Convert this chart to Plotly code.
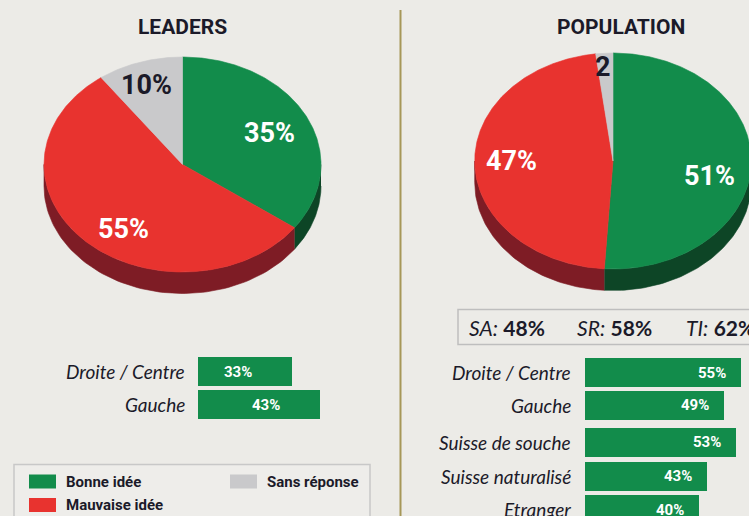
import numpy as np
import plotly.graph_objects as go

W, H = 749, 516
BG = "#ECEBE7"
DARK = "#1B1A29"

# ---------------- data ----------------
answer_labels = ["Bonne idée", "Mauvaise idée", "Sans réponse"]
leaders_share = [35, 55, 10]
leaders_pie_text = ["35%", "55%", "10%"]
population_share = [51, 47, 2]
population_pie_text = ["51%", "47%", "2"]

leaders_groups = ["Droite / Centre", "Gauche"]
leaders_group_values = [33, 43]
population_groups = ["Droite / Centre", "Gauche", "Suisse de souche",
                     "Suisse naturalisé", "Etranger"]
population_group_values = [55, 49, 53, 43, 40]
regions = ["SA", "SR", "TI"]
region_values = [48, 58, 62]

# ---------------- styles ----------------
top_colors = ["#128C4B", "#E8332F", "#C9C9CB"]
side_colors = ["#0D4526", "#7E1C25", "#8E8E90"]
label_colors = ["white", "white", DARK]
NUM_FONT = "Roboto, sans-serif"
LAB_FONT = "Lato, sans-serif"

fig = go.Figure()


def add_pie(values, texts, cx, cy, rx, ry, depth, label_off):
    total = float(sum(values))
    cum = np.concatenate([[0], np.cumsum(values)]) / total * 360.0
    # extruded side (visible lower half only)
    for i in range(len(values)):
        lo, hi = max(cum[i], 90.0), min(cum[i + 1], 270.0)
        if hi > lo:
            t = np.radians(np.linspace(lo, hi, 80))
            xs = cx + rx * np.sin(t)
            ys = cy - ry * np.cos(t)
            fig.add_trace(go.Scatter(
                x=np.concatenate([xs, xs[::-1]]),
                y=np.concatenate([ys, ys[::-1] + depth]),
                fill="toself", fillcolor=side_colors[i], mode="lines",
                line=dict(color=side_colors[i], width=0.6),
                hoverinfo="skip", showlegend=False))
    # top surface
    for i in range(len(values)):
        n = max(int(cum[i + 1] - cum[i]) * 2, 4)
        t = np.radians(np.linspace(cum[i], cum[i + 1], n))
        xs = np.concatenate([[cx], cx + rx * np.sin(t), [cx]])
        ys = np.concatenate([[cy], cy - ry * np.cos(t), [cy]])
        fig.add_trace(go.Scatter(
            x=xs, y=ys, fill="toself", fillcolor=top_colors[i], mode="lines",
            line=dict(color=top_colors[i], width=0.6),
            name=answer_labels[i], hoverinfo="name", showlegend=False))
        fx, fy = label_off[i]
        fig.add_annotation(x=cx + fx * rx, y=cy + fy * ry, text="<b>%s</b>" % texts[i],
                           showarrow=False, xanchor="center", yanchor="middle",
                           font=dict(family=NUM_FONT, size=27, color=label_colors[i]))


# pies
add_pie(leaders_share, leaders_pie_text, 182.5, 164.5, 138.5, 107.5, 21.5,
        [(0.625, -0.29), (-0.426, 0.60), (-0.26, -0.735)])
add_pie(population_share, population_pie_text, 613.0, 161.0, 138.3, 108.0, 21.5,
        [(0.70, 0.14), (-0.737, 0.0), (-0.069, -0.87)])

# titles
for txt, x in [("LEADERS", 182.0), ("POPULATION", 620.5)]:
    fig.add_annotation(x=x, y=27, text="<b>%s</b>" % txt, showarrow=False,
                       xanchor="center", yanchor="middle",
                       font=dict(family="Roboto, sans-serif", size=21, color=DARK))

# bars ------------------------------------------------------
PX_PER_PCT = 2.84
left_start, right_start = 198.0, 585.0
left_rows = [371.5, 404.5]
right_rows = [372.5, 405.3, 442.2, 476.3, 509.5]
BAR_H = 28.8
GREEN = top_colors[0]

fig.add_trace(go.Bar(x=leaders_group_values, y=left_rows, orientation="h",
                     xaxis="x2", yaxis="y", width=BAR_H, marker=dict(color=GREEN, line=dict(width=0)),
                     hoverinfo="x", showlegend=False))
fig.add_trace(go.Bar(x=population_group_values, y=right_rows, orientation="h",
                     xaxis="x3", yaxis="y", width=BAR_H, marker=dict(color=GREEN, line=dict(width=0)),
                     hoverinfo="x", showlegend=False))

for vals, rows, xa, pad in [(leaders_group_values, left_rows, "x2", -38),
                            (population_group_values, right_rows, "x3", -13)]:
    for v, yy in zip(vals, rows):
        fig.add_annotation(x=v, y=yy, xref=xa, yref="y", text="<b>%d%%</b>" % v,
                           showarrow=False, xanchor="right", yanchor="middle", xshift=pad,
                           font=dict(family=NUM_FONT, size=15, color="white"))

for groups, rows, xr in [(leaders_groups, left_rows, 186.5), (population_groups, right_rows, 572.5)]:
    for g, yy in zip(groups, rows):
        fig.add_annotation(x=xr, y=yy, text="<i>%s</i>" % g, showarrow=False,
                           xanchor="right", yanchor="middle",
                           font=dict(family=LAB_FONT, size=19, color=DARK, weight=400))

# region box
fig.add_shape(type="rect", x0=458, x1=780, y0=309.5, y1=344.5,
              line=dict(color="#BEBEBE", width=1.5), fillcolor="rgba(0,0,0,0)", layer="below")
for r, v, xl in zip(regions, region_values, [466.5, 575.0, 683.5]):
    fig.add_annotation(x=xl, y=327, text="<i>%s:</i> <b>%d%%</b>" % (r, v), showarrow=False,
                       xanchor="left", yanchor="middle",
                       font=dict(family=LAB_FONT, size=21, color=DARK, weight=400))

# legend box
fig.add_shape(type="rect", x0=14, x1=370, y0=464.5, y1=540,
              line=dict(color="#C8C8C8", width=1.5), fillcolor="#EEEDEA", layer="below")
legend_pos = [(29, 481.5), (29, 505.0), (230, 481.5)]
for lab, col, (lx, ly) in zip(answer_labels, top_colors, legend_pos):
    fig.add_shape(type="rect", x0=lx, x1=lx + 27, y0=ly - 7, y1=ly + 7,
                  line=dict(width=0), fillcolor=col)
    fig.add_annotation(x=lx + 35, y=ly, text="<b>%s</b>" % lab, showarrow=False,
                       xanchor="left", yanchor="middle",
                       font=dict(family=NUM_FONT, size=15, color=DARK))

# divider
fig.add_shape(type="line", x0=400.5, x1=400.5, y0=10, y1=520,
              line=dict(color="#A69758", width=2))

left_w = 100 * PX_PER_PCT
fig.update_layout(
    width=W, height=H, margin=dict(l=0, r=0, t=0, b=0),
    paper_bgcolor=BG, plot_bgcolor="rgba(0,0,0,0)", showlegend=False, bargap=0,
    xaxis=dict(range=[0, W], visible=False, domain=[0, 1], fixedrange=True),
    yaxis=dict(range=[H, 0], visible=False, domain=[0, 1], fixedrange=True),
    xaxis2=dict(domain=[left_start / W, (left_start + left_w) / W], range=[0, 100],
                anchor="y", visible=False, fixedrange=True),
    xaxis3=dict(domain=[right_start / W, 1.0], range=[0, (W - right_start) / PX_PER_PCT],
                anchor="y", visible=False, fixedrange=True),
)

fig.write_html("out.html", config={"displayModeBar": False},
               post_script="document.body.style.margin='0';document.body.style.background='%s';" % BG)
